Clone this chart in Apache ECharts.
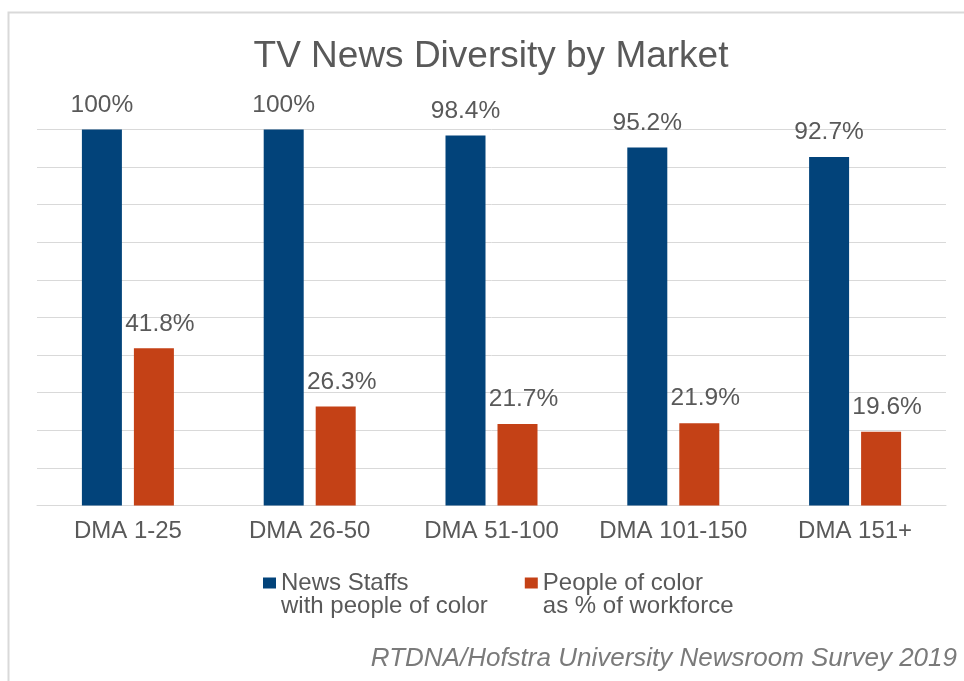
<!DOCTYPE html>
<html>
<head>
<meta charset="utf-8">
<title>TV News Diversity by Market</title>
<script src="https://cdn.jsdelivr.net/npm/echarts@6/dist/echarts.min.js"></script>
<style>
  html, body { margin: 0; padding: 0; background: #ffffff; }
  #chart { width: 964px; height: 681px; }
</style>
</head>
<body>
<div id="chart"></div>
<script>
// Market groups (DMA ranks)
const categories = ['DMA 1-25', 'DMA 26-50', 'DMA 51-100', 'DMA 101-150', 'DMA 151+'];
// Share of news staffs that include people of color (%)
const staffsWithPOC = [100, 100, 98.4, 95.2, 92.7];
// People of color as a share of the newsroom workforce (%)
const pocShareOfWorkforce = [41.8, 26.3, 21.7, 21.9, 19.6];
// Series names shown in the legend
const seriesNames = ['News Staffs\nwith people of color', 'People of color\nas % of workforce'];

const textGray = '#595959';
const fontFamily = 'Liberation Sans, Arial, sans-serif';

const chart = echarts.init(document.getElementById('chart'), null, { renderer: 'canvas' });

function valueLabel(offsetX) {
  return {
    show: true,
    position: 'top',
    distance: 12,
    offset: [offsetX, 0],
    color: textGray,
    fontFamily: fontFamily,
    fontSize: 24.5,
    formatter: p => p.value + '%'
  };
}

chart.setOption({
  backgroundColor: '#ffffff',
  animation: false,
  title: {
    text: 'TV News Diversity by Market',
    left: 486,
    top: 33,
    textAlign: 'center',
    textStyle: {
      color: textGray,
      fontFamily: fontFamily,
      fontSize: 37,
      fontWeight: 'normal'
    }
  },
  legend: {
    data: seriesNames,
    left: 263,
    top: 548,
    padding: 0,
    itemWidth: 13,
    itemHeight: 11,
    itemGap: 37,
    icon: 'rect',
    selectedMode: false,
    // an empty leading line keeps the swatch level with the first text line
    formatter: name => '\n' + name,
    textStyle: {
      color: textGray,
      fontFamily: fontFamily,
      fontSize: 24,
      lineHeight: 23
    }
  },
  grid: {
    left: 37,
    right: 18,
    top: 129.5,
    bottom: 175.5,
    containLabel: false,
    outerBoundsMode: 'none'
  },
  xAxis: {
    type: 'category',
    data: categories,
    axisTick: { show: false },
    axisLine: { lineStyle: { color: '#d9d9d9', width: 1 } },
    axisLabel: {
      interval: 0,
      color: textGray,
      fontFamily: fontFamily,
      fontSize: 24,
      margin: 14
    }
  },
  yAxis: {
    type: 'value',
    min: 0,
    max: 100,
    interval: 10,
    axisLabel: { show: false },
    axisLine: { show: false },
    axisTick: { show: false },
    splitLine: { lineStyle: { color: '#d9d9d9', width: 1 } }
  },
  series: [
    {
      name: seriesNames[0],
      type: 'bar',
      data: staffsWithPOC,
      barWidth: 40,
      barGap: '30%',
      itemStyle: { color: '#02437a' },
      label: valueLabel(0)
    },
    {
      name: seriesNames[1],
      type: 'bar',
      data: pocShareOfWorkforce,
      barWidth: 40,
      itemStyle: { color: '#c44116' },
      label: valueLabel(6)
    }
  ],
  graphic: [
    {
      // light frame around the whole chart
      type: 'rect',
      silent: true,
      shape: { x: 8.5, y: 12.5, width: 1000, height: 720 },
      style: { fill: 'none', stroke: '#d9d9d9', lineWidth: 2 },
      z: -1
    },
    {
      type: 'text',
      right: 7,
      top: 646,
      style: {
        text: 'RTDNA/Hofstra University Newsroom Survey 2019',
        fill: '#7a7a7a',
        font: 'italic 26px ' + fontFamily,
        textAlign: 'right'
      }
    }
  ]
});
</script>
</body>
</html>
